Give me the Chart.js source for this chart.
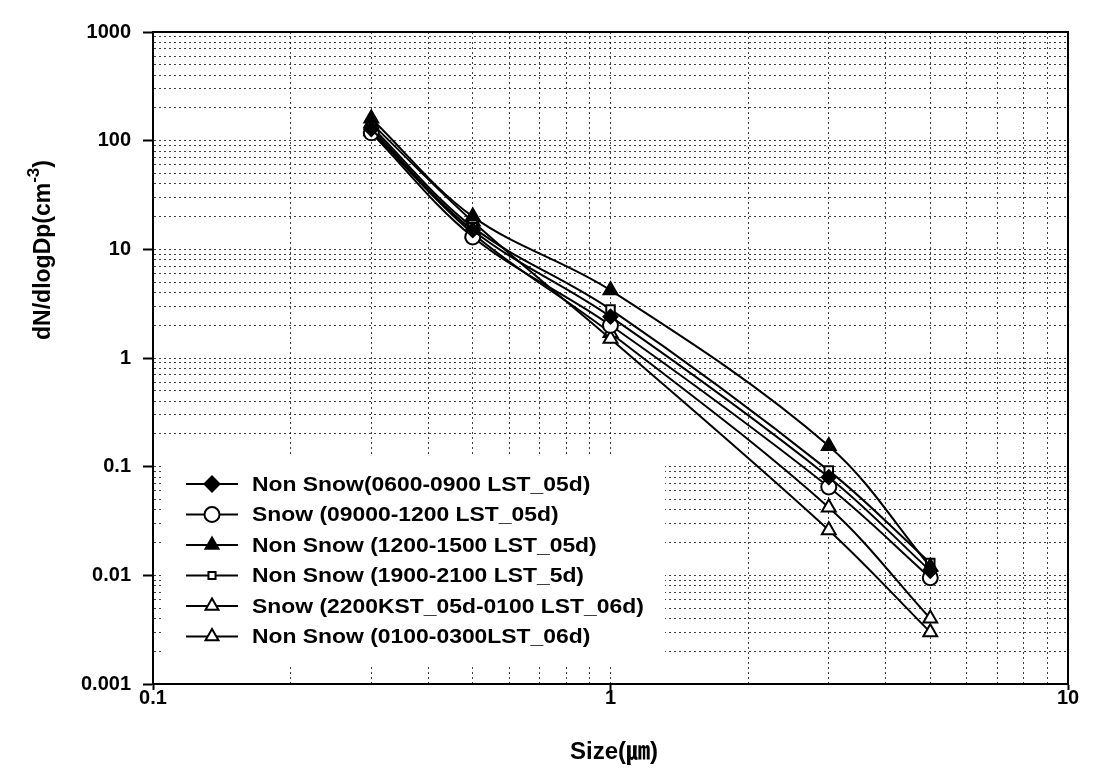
<!DOCTYPE html>
<html>
<head>
<meta charset="utf-8">
<script src="https://cdn.jsdelivr.net/npm/chart.js@4/dist/chart.umd.min.js"></script>
<style>
  html, body { margin: 0; padding: 0; background: #fff; }
  #wrap { width: 1094px; height: 776px; }
</style>
</head>
<body>
<div id="wrap"><canvas id="c" width="1094" height="776"></canvas></div>
<script>
// Particle sizes (µm) at which the counter reports
const sizes = [0.3, 0.5, 1, 3, 5];

// Number size distributions dN/dlogDp (cm^-3)
const nonSnow0600 = [128, 15, 2.4, 0.080, 0.011];
const snow0900    = [118, 13, 2.0, 0.065, 0.0095];
const nonSnow1200 = [160, 20, 4.2, 0.155, 0.012];
const nonSnow1900 = [135, 16, 2.8, 0.092, 0.013];
const snow2200    = [145, 18, 1.5, 0.026, 0.0030];
const nonSnow0100 = [122, 14, 1.7, 0.042, 0.0040];

const seriesLabels = [
  'Non Snow(0600-0900 LST_05d)',
  'Snow (09000-1200 LST_05d)',
  'Non Snow (1200-1500 LST_05d)',
  'Non Snow (1900-2100 LST_5d)',
  'Snow (2200KST_05d-0100 LST_06d)',
  'Non Snow (0100-0300LST_06d)'
];

// Decade tick labels
const xDecades = [0.1, 1, 10];
const xTickLabels = ['0.1', '1', '10'];
const yDecades = [0.001, 0.01, 0.1, 1, 10, 100, 1000];
const yTickLabels = ['0.001', '0.01', '0.1', '1', '10', '100', '1000'];

const FONT = "'Liberation Sans', Arial, Helvetica, sans-serif";

// 1..9 multiples inside every decade, for the dotted grid
function logTicks(decades) {
  const out = [];
  for (let i = 0; i < decades.length - 1; i++) {
    for (let m = 1; m <= 9; m++) out.push(+(decades[i] * m).toPrecision(6));
  }
  out.push(decades[decades.length - 1]);
  return out;
}
function isDecade(v) {
  const l = Math.log10(v);
  return Math.abs(l - Math.round(l)) < 1e-9;
}

const styles = [
  { pointStyle: 'rectRot',  radius: 7, fill: '#000' },
  { pointStyle: 'circle',   radius: 7.5, fill: '#fff' },
  { pointStyle: 'triangle', radius: 8, fill: '#000' },
  { pointStyle: 'rect',     radius: 6, fill: '#fff' },
  { pointStyle: 'triangle', radius: 8, fill: '#fff' },
  { pointStyle: 'triangle', radius: 8, fill: '#fff' }
];
const values = [nonSnow0600, snow0900, nonSnow1200, nonSnow1900, snow2200, nonSnow0100];

const datasets = values.map((vals, i) => ({
  label: seriesLabels[i],
  data: sizes.map((s, j) => ({ x: s, y: vals[j] })),
  borderColor: '#000',
  borderWidth: 2,
  tension: 0.35,
  pointStyle: styles[i].pointStyle,
  pointRadius: styles[i].radius,
  pointBackgroundColor: styles[i].fill,
  pointBorderColor: '#000',
  pointBorderWidth: 2
}));

// White legend panel inside the plot, plus frame and axis titles
const decorations = {
  id: 'decorations',
  beforeDatasetsDraw(chart) {
    const ctx = chart.ctx;
    ctx.save();
    ctx.fillStyle = '#fff';
    ctx.fillRect(163, 455, 502, 210);
    ctx.restore();
  },
  afterDraw(chart) {
    const ctx = chart.ctx;
    const a = chart.chartArea;
    ctx.save();
    // plot frame
    ctx.strokeStyle = '#000';
    ctx.lineWidth = 2;
    ctx.strokeRect(a.left, a.top, a.right - a.left, a.bottom - a.top);

    // legend
    ctx.font = 'bold 21px ' + FONT;
    ctx.textBaseline = 'middle';
    ctx.textAlign = 'left';
    chart.data.datasets.forEach((ds, i) => {
      const y = 484 + i * 30.5;
      ctx.strokeStyle = '#000';
      ctx.lineWidth = 2;
      ctx.beginPath();
      ctx.moveTo(186, y);
      ctx.lineTo(238, y);
      ctx.stroke();
      ctx.fillStyle = ds.pointBackgroundColor;
      Chart.helpers.drawPoint(ctx, {
        pointStyle: ds.pointStyle,
        radius: ds.pointStyle === 'rect' ? 5 : 7.5,
        rotation: 0,
        borderWidth: 2
      }, 212, y);
      ctx.fillStyle = '#000';
      ctx.save();
      ctx.translate(252, y + 1);
      ctx.scale(1.09, 1);
      ctx.fillText(ds.label, 0, 0);
      ctx.restore();
    });

    // x axis title
    ctx.fillStyle = '#000';
    ctx.textAlign = 'center';
    ctx.textBaseline = 'middle';
    ctx.font = 'bold 24px ' + FONT + ", 'Noto Sans CJK KR'";
    ctx.fillText('Size(\u339B)', 614, 752);

    // y axis title with superscript
    ctx.translate(44, 250);
    ctx.rotate(-Math.PI / 2);
    const main = 'dN/dlogDp(cm';
    const sup = '-3';
    const close = ')';
    ctx.font = 'bold 23px ' + FONT;
    const wMain = ctx.measureText(main).width;
    const wClose = ctx.measureText(close).width;
    ctx.font = 'bold 17px ' + FONT;
    const wSup = ctx.measureText(sup).width;
    let x = -(wMain + wSup + wClose) / 2;
    ctx.textAlign = 'left';
    ctx.font = 'bold 23px ' + FONT;
    ctx.fillText(main, x, 0);
    x += wMain;
    ctx.font = 'bold 17px ' + FONT;
    ctx.fillText(sup, x, -10);
    x += wSup;
    ctx.font = 'bold 23px ' + FONT;
    ctx.fillText(close, x, 0);
    ctx.restore();
  }
};

const gridColor = 'rgba(0,0,0,0.75)';

new Chart(document.getElementById('c'), {
  type: 'line',
  data: { datasets },
  options: {
    responsive: false,
    animation: false,
    layout: { padding: { top: 32, right: 26, left: 0, bottom: 0 } },
    plugins: { legend: { display: false }, tooltip: { enabled: false } },
    scales: {
      x: {
        type: 'logarithmic',
        min: 0.1,
        max: 10,
        afterBuildTicks(scale) {
          scale.ticks = logTicks(xDecades).map(v => ({ value: v, major: isDecade(v) }));
        },
        afterFit(scale) { scale.height = 92; },
        ticks: {
          autoSkip: false,
          maxRotation: 0,
          padding: -4,
          color: '#000',
          font: { family: FONT, size: 20, weight: 'bold' },
          callback(v) {
            const k = xDecades.findIndex(d => Math.abs(d - v) < 1e-9);
            return k >= 0 ? xTickLabels[k] : '';
          }
        },
        grid: {
          color: gridColor,
          lineWidth: 1,
          tickLength: 6,
          tickColor: ctx => (ctx.tick && isDecade(ctx.tick.value)) ? '#000' : 'rgba(0,0,0,0)',
          tickWidth: 2
        },
        border: { display: true, color: '#000', width: 2, dash: [2, 3] }
      },
      y: {
        type: 'logarithmic',
        min: 0.001,
        max: 1000,
        afterBuildTicks(scale) {
          scale.ticks = logTicks(yDecades).map(v => ({ value: v, major: isDecade(v) }));
        },
        afterFit(scale) { scale.width = 153; },
        ticks: {
          autoSkip: false,
          padding: 12,
          color: '#000',
          font: { family: FONT, size: 20, weight: 'bold' },
          callback(v) {
            const k = yDecades.findIndex(d => Math.abs(d - v) / d < 1e-6);
            return k >= 0 ? yTickLabels[k] : '';
          }
        },
        grid: {
          color: gridColor,
          lineWidth: 1,
          tickLength: 10,
          tickColor: ctx => (ctx.tick && isDecade(ctx.tick.value)) ? '#000' : 'rgba(0,0,0,0)',
          tickWidth: 2
        },
        border: { display: true, color: '#000', width: 2, dash: [2, 3] }
      }
    }
  },
  plugins: [decorations]
});
</script>
</body>
</html>
